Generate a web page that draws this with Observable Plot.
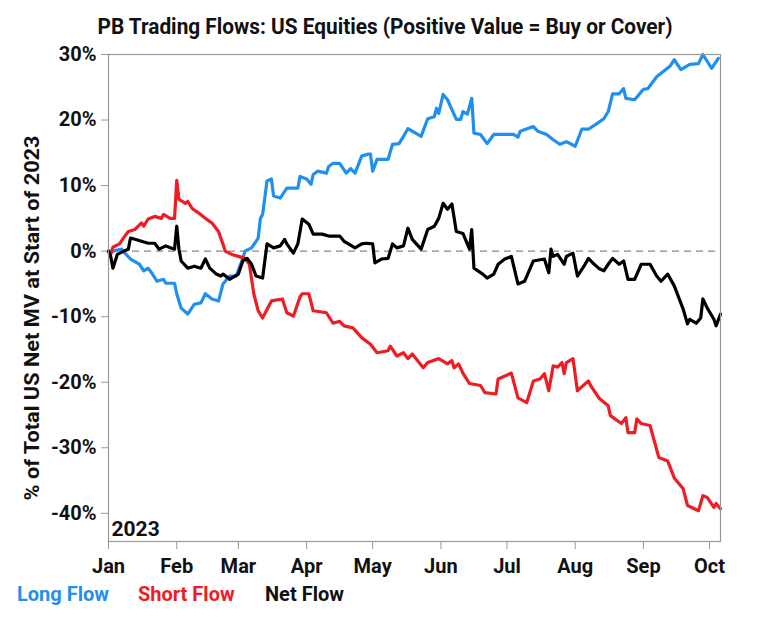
<!DOCTYPE html>
<html><head><meta charset="utf-8">
<script src="https://cdn.jsdelivr.net/npm/d3@7"></script>
<script src="https://cdn.jsdelivr.net/npm/@observablehq/plot@0.6"></script>
<style>
body{margin:0;background:#fff;font-family:Roboto,"Noto Sans",sans-serif;}
#wrap{position:relative;width:758px;height:617px;overflow:hidden;}
#title{position:absolute;top:12px;left:6px;width:758px;height:30px;text-align:center;font-weight:700;font-size:22px;line-height:30px;color:#111;white-space:nowrap;}
#title span{display:inline-block;transform-origin:center;}
#chart{position:absolute;top:40px;left:0;}
.leg{position:absolute;top:580px;font-weight:700;font-size:20px;line-height:28px;white-space:nowrap;}
</style></head><body>
<div id="wrap">
<div id="title"><span>PB Trading Flows: US Equities (Positive Value = Buy or Cover)</span></div>
<div id="chart"></div>
<div id="legend"></div>
</div>
<script>
// Days since 2023-01-01 and values (% of total US net MV at start of 2023)
const longDays = [0,2,6,8,10,14,16,18,20,22,25,26,30,31,33,36,39,42,44,47,50,52,55,58,61,62,65,68,69,70,72,74,75,78,81,86,87,90,92,93,95,99,100,102,105,108,110,112,115,118,119,120,122,127,129,132,134,136,138,142,145,148,149,150,152,154,158,160,161,163,165,166,169,172,175,184,186,187,193,195,199,202,205,208,212,215,218,222,225,227,229,232,234,235,239,243,245,249,252,255,257,260,264,268,270,274,277];
const longValues = [0,0,0.3,-0.5,-1.2,-2.0,-3.0,-2.6,-3.5,-4.6,-4.3,-4.9,-4.9,-6.5,-8.7,-9.6,-8.1,-7.9,-6.5,-7.3,-7.6,-5.0,-3.8,-3.8,-1.1,0,0.5,2.0,5.0,5.6,10.7,11.0,8.4,8.1,9.6,9.6,11.4,11.0,10.2,11.7,12.2,11.9,12.9,13.4,13.4,11.9,12.6,11.9,14.5,14.8,14.8,12.2,14.0,14.0,16.3,16.4,17.5,18.7,18.3,17.5,20.2,20.5,21.8,21.0,23.9,23.1,20.1,20.1,21.3,20.9,23.3,18.0,17.8,16.4,17.8,17.8,17.4,18.3,19.0,18.3,17.8,17.0,16.3,16.7,16.0,18.6,18.6,19.5,20.2,21.3,24.0,24.0,24.8,23.3,23.1,24.7,24.8,26.6,27.4,28.2,29.2,27.7,28.5,28.6,30.0,27.9,29.4];

const shortDays = [0,1,2,5,7,9,12,15,16,18,21,24,25,28,30,31,32,35,36,38,41,44,47,50,51,52,53,56,59,62,64,66,68,70,74,79,81,84,87,88,91,93,99,102,105,107,111,115,119,122,127,128,131,134,136,138,143,145,150,154,156,157,159,161,164,169,171,176,177,183,186,190,193,196,198,200,202,204,206,207,208,211,213,218,219,223,227,228,233,235,236,239,240,242,246,250,254,257,261,263,268,270,272,275,276,278];
const shortValues = [0,-0.5,0.6,1.1,2.1,3.0,3.3,4.3,3.8,4.9,5.3,5.0,5.6,5.0,5.0,10.8,7.9,7.3,7.6,6.5,5.8,5.0,4.3,3.0,2.0,1.1,0,-0.5,-0.8,-1.1,-2.0,-6.5,-9.1,-10.2,-7.6,-7.3,-9.4,-9.9,-7.0,-6.5,-6.5,-9.1,-9.4,-11.0,-10.7,-11.4,-11.7,-13.2,-14.2,-15.5,-15.2,-14.5,-16.0,-15.5,-16.4,-15.7,-17.8,-17.0,-16.4,-17.2,-16.7,-17.8,-17.2,-18.6,-20.2,-20.5,-21.6,-21.8,-19.5,-18.6,-22.4,-23.1,-19.8,-19.5,-18.7,-21.3,-17.5,-17.7,-17.0,-18.7,-17.0,-16.4,-21.3,-19.8,-20.5,-22.5,-23.6,-25.1,-26.3,-25.4,-27.7,-27.7,-25.6,-26.3,-26.6,-31.5,-32.0,-34.6,-36.2,-38.8,-39.6,-37.3,-37.6,-39.1,-38.5,-39.3];

const netDays = [0,1,2,4,7,9,10,12,15,18,21,23,26,30,31,32,33,36,39,42,44,46,49,51,52,55,59,61,63,65,67,70,72,75,78,80,81,84,86,88,91,93,97,100,105,107,109,112,115,117,120,121,124,127,129,131,134,136,138,142,145,148,150,152,154,156,158,161,164,165,166,170,172,175,177,180,183,186,189,193,198,200,201,202,204,207,208,211,213,216,218,220,223,225,227,229,232,234,236,239,242,246,249,251,254,257,261,263,264,267,269,270,272,275,276,278];
const netValues = [0,-0.8,-2.6,-0.5,0,0.3,2.0,1.8,1.5,1.2,1.2,0.3,0.8,0.3,3.8,0.3,-1.5,-2.6,-2.3,-2.6,-1.2,-2.6,-3.5,-3.8,-3.5,-4.3,-3.5,-1.5,-1.1,-2.0,-3.8,-4.1,1.1,0.5,0.8,1.8,1.1,-0.3,1.1,4.9,4.1,2.6,2.6,2.3,2.3,1.5,1.1,0.5,1.1,1.2,1.1,-1.8,-1.2,-1.1,1.1,0.5,0.8,3.5,1.8,0.3,3.3,3.8,5.0,7.3,6.4,7.2,3.0,2.7,0.3,3.3,-2.6,-3.5,-4.1,-3.5,-2.0,-1.2,-0.8,-5.0,-4.6,-1.5,-1.2,-3.3,0.3,-0.8,-0.5,-2.0,-0.8,-0.3,-3.8,-2.3,-1.1,-1.8,-2.7,-3.0,-2.0,-1.1,-2.0,-1.5,-4.3,-4.3,-2.0,-2.0,-3.8,-4.6,-3.5,-5.3,-8.8,-11.1,-10.4,-11.0,-10.2,-7.3,-8.7,-10.4,-11.4,-9.6];

const seriesNames = ["Long Flow", "Short Flow", "Net Flow"];
const seriesColors = ["#1f8ff0", "#ee1c23", "#000000"];
const monthTicks = ["2023-01-01","2023-02-01","2023-03-01","2023-04-01","2023-05-01","2023-06-01","2023-07-01","2023-08-01","2023-09-01","2023-10-01"];
const yTicks = [-40, -30, -20, -10, 0, 10, 20, 30];
const titleText = "PB Trading Flows: US Equities (Positive Value = Buy or Cover)";
const yLabel = "% of Total US Net MV at Start of 2023";
const yearLabel = "2023";

const toDate = d => new Date(Date.UTC(2023, 0, 1 + d));
const build = (days, vals, name) => days.map((d, i) => ({date: toDate(d), value: vals[i], series: name}));
const series = [
  build(longDays, longValues, seriesNames[0]),
  build(shortDays, shortValues, seriesNames[1]),
  build(netDays, netValues, seriesNames[2])
];
const tickDates = monthTicks.map(s => new Date(s + "T00:00:00Z"));

const chart = Plot.plot({
  width: 758,
  height: 545,
  marginTop: 14,
  marginBottom: 44,
  marginLeft: 108,
  marginRight: 38,
  style: {fontFamily: "Roboto, 'Noto Sans', sans-serif", fontSize: "20px", fontWeight: "700", background: "#fff", color: "#111"},
  x: {type: "utc", domain: [toDate(0), toDate(278)]},
  y: {domain: [-44.3, 30]},
  marks: [
    Plot.ruleY([0], {stroke: "#888", strokeDasharray: "7,5", strokeWidth: 1.2}),
    Plot.axisY(yTicks, {tickSize: 7, tickPadding: 5, tickFormat: d => `${d}%`, label: null, stroke: "#999", fill: "#111"}),
    Plot.axisX(tickDates, {tickSize: 8, tickPadding: 9, tickFormat: d3.utcFormat("%b"), label: null, stroke: "#999", fill: "#111"}),
    ...series.map((s, i) => Plot.line(s, {x: "date", y: "value", stroke: seriesColors[i], strokeWidth: 3.2, strokeLinejoin: "round", curve: "linear"})),
    Plot.frame({stroke: "#999", strokeWidth: 1.2}),
    Plot.text([yearLabel], {frameAnchor: "bottom-left", dx: 3, dy: -6, textAnchor: "start", lineAnchor: "bottom", fontSize: 21, fontWeight: 700, fill: "#111"}),
    Plot.text([yLabel], {frameAnchor: "left", dx: -76, dy: 20, rotate: -90, textAnchor: "middle", lineAnchor: "middle", fontSize: 20, fontWeight: 700, fill: "#111"})
  ]
});
document.getElementById("chart").appendChild(chart);

// fit y label length
chart.querySelectorAll("text").forEach(t => {
  if (t.textContent === yLabel) {
    t.setAttribute("textLength", 365);
    t.setAttribute("lengthAdjust", "spacingAndGlyphs");
  }
});

// title
const span = document.querySelector("#title span");
span.textContent = titleText;
const tw = span.getBoundingClientRect().width;
span.style.transform = `scaleX(${575 / tw})`;

// legend
const legendLeft = [17, 138, 265];
const legend = document.getElementById("legend");
seriesNames.forEach((n, i) => {
  const el = document.createElement("div");
  el.className = "leg";
  el.style.left = legendLeft[i] + "px";
  el.style.color = seriesColors[i] === "#000000" ? "#111" : seriesColors[i];
  el.textContent = n;
  legend.appendChild(el);
});
</script>
</body></html>
